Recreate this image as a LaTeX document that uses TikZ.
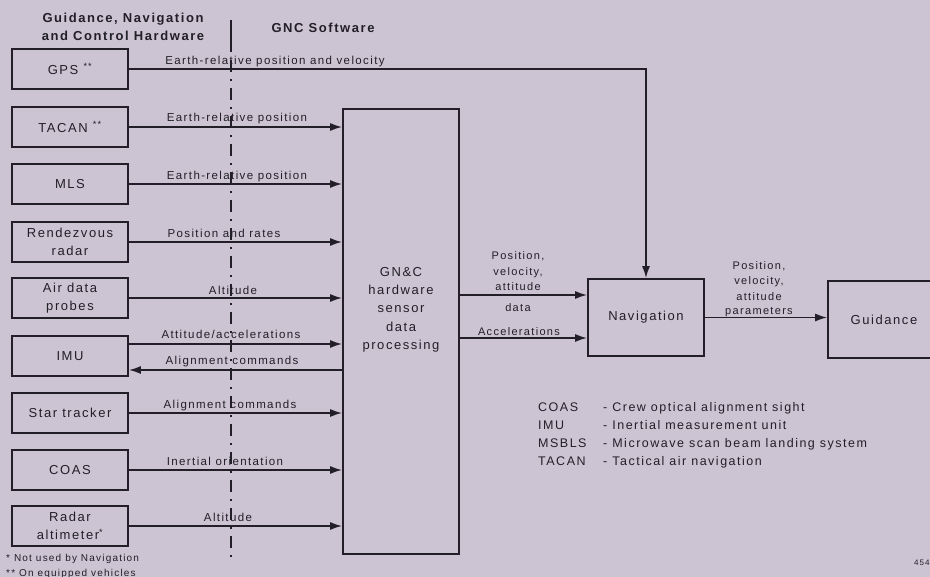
\documentclass[tikz,border=0pt]{standalone}
\usepackage{fontspec}
\setmainfont{Liberation Sans}[LetterSpace=12]
\usetikzlibrary{arrows.meta}
\definecolor{bgc}{RGB}{204,196,210}
\definecolor{ink}{RGB}{34,31,40}
\begin{document}
\begin{tikzpicture}[x=1pt,y=-1pt,
  box/.style={draw=ink, line width=1.7pt, minimum width=116pt, minimum height=40pt,
    inner sep=0pt, align=center, text=ink, font=\fontsize{13}{17.5}\selectfont},
  lbl/.style={text=ink, inner sep=0pt, anchor=base, font=\fontsize{11.5}{14}\selectfont},
  olbl/.style={text=ink, inner sep=0pt, anchor=base, font=\fontsize{11}{14}\selectfont},
  hdr/.style={text=ink, inner sep=0pt, align=center, font=\bfseries\fontsize{13}{18}\selectfont},
  leg/.style={text=ink, inner sep=0pt, anchor=base west, font=\fontsize{12.5}{15}\selectfont},
  foot/.style={text=ink, inner sep=0pt, anchor=base west, font=\fontsize{10}{12}\selectfont},
  arr/.style={draw=ink, line width=1.7pt, -{Latex[length=12pt,width=8pt]}},
  divider/.style={draw=ink, line width=1.7pt}]
\fill[bgc] (0,0) rectangle (930,577);
\useasboundingbox (0,0) rectangle (930,577);

% headers
\node[hdr] (h1) at (123,27) {Guidance, Navigation\\and Control Hardware};
\node[hdr] (h2) at (323,28) {GNC Software};

% divider line
\draw[divider] (231,20) -- (231,52);
\draw[divider, dash pattern=on 12pt off 7pt on 2pt off 7pt] (231,60) -- (231,560);

% hardware boxes
\node[box] (gps)   at (70,69)    {GPS \textsuperscript{**}};
\node[box] (tacan) at (70,127)   {TACAN \textsuperscript{**}};
\node[box] (mls)   at (70,184)   {MLS};
\node[box] (rdv)   at (70,242)   {Rendezvous\\radar};
\node[box] (air)   at (70,298)   {Air data\\probes};
\node[box] (imu)   at (70,356)   {IMU};
\node[box] (star)  at (70,413)   {Star tracker};
\node[box] (coas)  at (70,470)   {COAS};
\node[box] (radar) at (70,526)   {Radar\\altimeter\textsuperscript{*}};

% processing box
\node[box, minimum height=445pt] (gnc) at (401,331.5) {};
\node[text=ink, inner sep=0pt, align=center, font=\fontsize{13}{18.3}\selectfont]
  (gnct) at (401,309.7) {GN\&C\\hardware\\sensor\\data\\processing};

% navigation and guidance
\node[box, minimum height=77pt] (nav) at (646,317.5) {Navigation};
\begin{scope}
  \clip (0,0) rectangle (930,577);
  \node[box, minimum width=112pt, minimum height=77pt] (gd) at (884,319.5) {Guidance};
\end{scope}

% sensor connectors
\draw[arr] (gps.east) -| (nav.north);
\draw[arr] (tacan.east) -- (tacan.east -| gnc.west);
\draw[arr] (mls.east) -- (mls.east -| gnc.west);
\draw[arr] (rdv.east) -- (rdv.east -| gnc.west);
\draw[arr] (air.east) -- (air.east -| gnc.west);
\coordinate (imu1) at ([yshift=12pt]imu.east);
\coordinate (imu2) at ([yshift=-14pt]imu.east);
\draw[arr] (imu1) -- (imu1 -| gnc.west);
\draw[arr] (imu2 -| gnc.west) -- (imu2);
\draw[arr] (star.east) -- (star.east -| gnc.west);
\draw[arr] (coas.east) -- (coas.east -| gnc.west);
\draw[arr] (radar.east) -- (radar.east -| gnc.west);

% sensor labels
\node[lbl] (l1) at (275,64.5)  {Earth-relative position and velocity};
\node[lbl] (l2) at (237,121.5) {Earth-relative position};
\node[lbl] (l3) at (237,179.5) {Earth-relative position};
\node[lbl] (l4) at (224,237.5) {Position and rates};
\node[lbl] (l5) at (233,294.5) {Altitude};
\node[lbl] (l6) at (231,338.5) {Attitude/accelerations};
\node[lbl] (l7) at (232,364.5) {Alignment commands};
\node[lbl] (l8) at (230,408.5) {Alignment commands};
\node[lbl] (l9) at (225,465.5) {Inertial orientation};
\node[lbl] (l10) at (228,521.5) {Altitude};

% processing to navigation
\coordinate (n1) at ([yshift=22.5pt]nav.west);
\coordinate (n2) at ([yshift=-20.5pt]nav.west);
\draw[arr] (n1 -| gnc.east) -- (n1);
\draw[arr] (n2 -| gnc.east) -- (n2);
\node[olbl] (p1) at (518,260)   {Position,};
\node[olbl] (p2) at (518,276)   {velocity,};
\node[olbl] (p3) at (518,291)   {attitude};
\node[olbl] (p4) at (518,311.5) {data};
\node[olbl] (p5) at (519,335.5) {Accelerations};

% navigation to guidance
\draw[arr] (nav.east) -- (nav.east -| gd.west);
\node[olbl] (q1) at (759,269.5) {Position,};
\node[olbl] (q2) at (759,285)   {velocity,};
\node[olbl] (q3) at (759,300.5) {attitude};
\node[olbl] (q4) at (759,315)   {parameters};

% legend
\node[leg] (a1) at (538,411.5) {COAS};
\node[leg] (a2) at (538,429.5) {IMU};
\node[leg] (a3) at (538,447.5) {MSBLS};
\node[leg] (a4) at (538,465.5) {TACAN};
\node[leg] (d1) at (603,411.5) {- Crew optical alignment sight};
\node[leg] (d2) at (603,429.5) {- Inertial measurement unit};
\node[leg] (d3) at (603,447.5) {- Microwave scan beam landing system};
\node[leg] (d4) at (603,465.5) {- Tactical air navigation};

% footnotes
\node[foot] (f1) at (6,561.5) {* Not used by Navigation};
\node[foot] (f2) at (6,576)   {** On equipped vehicles};
\node[text=ink, inner sep=0pt, anchor=base west, font=\fontsize{8}{9}\selectfont] (pg) at (914,565) {454};
\end{tikzpicture}
\end{document}
